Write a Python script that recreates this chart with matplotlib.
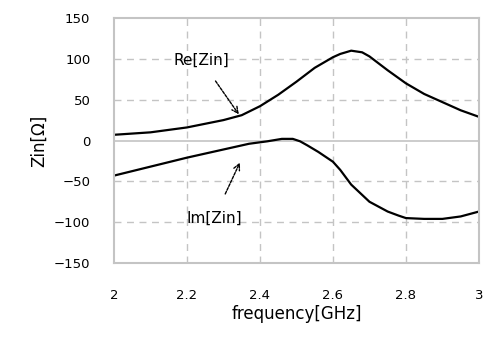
import matplotlib
matplotlib.use("Agg")
import matplotlib.pyplot as plt

# values
freq_re = [2.0, 2.1, 2.2, 2.3, 2.35, 2.4, 2.45, 2.5, 2.55, 2.6, 2.62, 2.65, 2.68, 2.7, 2.75, 2.8, 2.85, 2.9, 2.95, 3.0]
re_zin = [7, 10, 16, 25, 31, 42, 56, 72, 89, 102, 106, 110, 108, 103, 86, 70, 57, 47, 37, 29]

freq_im = [2.0, 2.1, 2.2, 2.3, 2.37, 2.42, 2.46, 2.49, 2.51, 2.53, 2.56, 2.6, 2.62, 2.65, 2.7, 2.75, 2.78, 2.8, 2.85, 2.9, 2.95, 3.0]
im_zin = [-43, -32, -21, -11, -4, -1, 2, 2, -1, -6, -14, -26, -36, -54, -75, -87, -92, -95, -96, -96, -93, -87]

xticks = [2, 2.2, 2.4, 2.6, 2.8, 3]
xtick_labels = ["2", "2.2", "2.4", "2.6", "2.8", "3"]
yticks = [-150, -100, -50, 0, 50, 100, 150]

grid_col = "#c4c4c4"

fig = plt.figure(figsize=(4.84, 3.4), dpi=100)
ax = fig.add_axes([0.2355, 0.2265, 0.754, 0.7205])

# grid: dashed, zero line solid
for x in xticks[1:-1]:
    ax.axvline(x, color=grid_col, lw=1, ls=(0, (5, 4)), zorder=0)
for y in yticks[1:-1]:
    if y == 0:
        ax.axhline(y, color=grid_col, lw=1.2, zorder=0)
    else:
        ax.axhline(y, color=grid_col, lw=1, ls=(0, (5, 4)), zorder=0)

ax.plot(freq_re, re_zin, color="black", lw=1.6)
ax.plot(freq_im, im_zin, color="black", lw=1.6)

ax.set_xlim(2, 3)
ax.set_ylim(-150, 150)
ax.set_xticks(xticks)
ax.set_xticklabels(xtick_labels)
ax.set_yticks(yticks)
ax.tick_params(length=0, labelsize=9.5)
ax.tick_params(axis="x", pad=19)
ax.tick_params(axis="y", pad=17)
for s in ax.spines.values():
    s.set_color(grid_col)
    s.set_linewidth(1.5)

ax.set_xlabel("frequency[GHz]", fontsize=12, labelpad=2)
ax.set_ylabel("Zin[Ω]", fontsize=12, labelpad=4)

arrow = dict(arrowstyle="->", color="black", lw=1, ls=(0, (2, 1)))
ax.annotate("Re[Zin]", xy=(2.342, 32), xytext=(2.239, 98),
            ha="center", va="center", fontsize=11, arrowprops=dict(arrow, shrinkA=9, shrinkB=0))
ax.annotate("Im[Zin]", xy=(2.345, -27), xytext=(2.274, -95),
            ha="center", va="center", fontsize=11, arrowprops=dict(arrow, shrinkA=11, shrinkB=0))

fig.savefig("out.png", dpi=100)
